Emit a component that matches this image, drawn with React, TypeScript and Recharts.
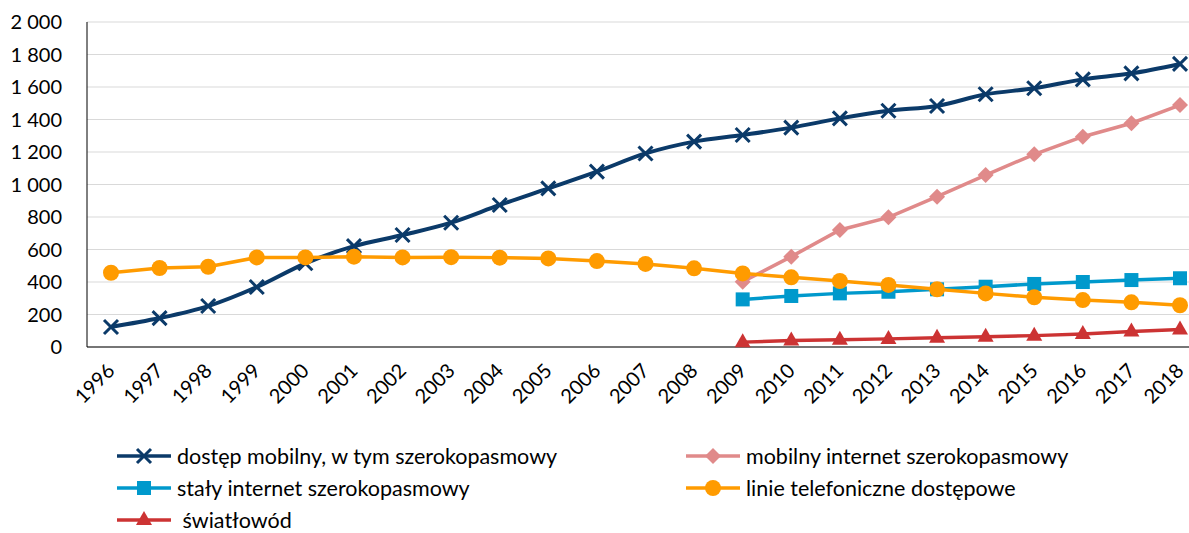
import { CartesianGrid, Legend, Line, LineChart, XAxis, YAxis } from "recharts";

const YEARS = [
  "1996", "1997", "1998", "1999", "2000", "2001", "2002", "2003", "2004", "2005", "2006", "2007",
  "2008", "2009", "2010", "2011", "2012", "2013", "2014", "2015", "2016", "2017", "2018",
];

const MOBILE_ACCESS = [
  123, 178, 252, 369, 515, 621, 689, 765, 874, 976, 1079, 1191, 1264, 1305, 1350, 1407, 1454,
  1483, 1555, 1592, 1647, 1684, 1742,
];
const PRE_2009 = Array(13).fill(null);
const MOBILE_BROADBAND = [...PRE_2009, 402, 556, 720, 798, 925, 1058, 1186, 1294, 1377, 1489];
const FIXED_BROADBAND = [...PRE_2009, 293, 314, 330, 340, 355, 371, 388, 400, 412, 423];
const PHONE_LINES = [
  457, 486, 494, 551, 551, 556, 551, 553, 550, 545, 529, 511, 484, 453, 429, 406, 382, 355, 330,
  306, 289, 275, 257,
];
const FIBER = [...PRE_2009, 30, 40, 45, 50, 57, 63, 70, 80, 95, 108];

const Y_TICKS = [0, 200, 400, 600, 800, 1000, 1200, 1400, 1600, 1800, 2000];

const NAVY = "#0b3a69";
const PINK = "#e08a8a";
const BLUE = "#0099cc";
const ORANGE = "#ff9b00";
const RED = "#cc3333";
const FONT = "Lato, 'Open Sans', sans-serif";

const data = YEARS.map((year, i) => ({
  year,
  mobile: MOBILE_ACCESS[i],
  mobileBb: MOBILE_BROADBAND[i],
  fixedBb: FIXED_BROADBAND[i],
  phone: PHONE_LINES[i],
  fiber: FIBER[i],
}));

const fmt = (v: number) => String(v).replace(/\B(?=(\d{3})+(?!\d))/g, " ");

function Marker({ kind, cx, cy, color }: { kind: string; cx: number; cy: number; color: string }) {
  if (cx == null || cy == null) return null;
  switch (kind) {
    case "x":
      return (
        <path
          d={`M${cx - 7},${cy - 7}L${cx + 7},${cy + 7}M${cx - 7},${cy + 7}L${cx + 7},${cy - 7}`}
          stroke={color}
          strokeWidth={3}
          fill="none"
        />
      );
    case "diamond":
      return <path d={`M${cx},${cy - 8}L${cx + 8},${cy}L${cx},${cy + 8}L${cx - 8},${cy}Z`} fill={color} />;
    case "square":
      return <rect x={cx - 7} y={cy - 7} width={14} height={14} fill={color} />;
    case "circle":
      return <circle cx={cx} cy={cy} r={8} fill={color} />;
    case "triangle":
      return <path d={`M${cx},${cy - 9}L${cx + 8},${cy + 5}L${cx - 8},${cy + 5}Z`} fill={color} />;
  }
  return null;
}

const dot = (kind: string, color: string) => (p: any) =>
  p.value == null ? <g key={p.index} /> : <Marker key={p.index} kind={kind} cx={p.cx} cy={p.cy} color={color} />;

const SERIES = [
  { key: "mobile", name: "dostęp mobilny, w tym szerokopasmowy", color: NAVY, kind: "x" },
  { key: "mobileBb", name: "mobilny internet szerokopasmowy", color: PINK, kind: "diamond" },
  { key: "fixedBb", name: "stały internet szerokopasmowy", color: BLUE, kind: "square" },
  { key: "phone", name: "linie telefoniczne dostępowe", color: ORANGE, kind: "circle" },
  { key: "fiber", name: " światłowód", color: RED, kind: "triangle" },
];

function XTick({ x, y, payload }: any) {
  return (
    <g transform={`translate(${x},${y + 12}) rotate(-45)`}>
      <text x={0} y={0} dy="0.35em" textAnchor="end" fill="#000" fontSize={20} fontFamily={FONT}>
        {payload.value}
      </text>
    </g>
  );
}

function LegendContent() {
  return (
    <div
      style={{
        display: "grid",
        gridTemplateColumns: "569px 440px",
        paddingLeft: 117,
        paddingTop: 1,
        fontFamily: FONT,
        fontSize: 21.5,
        lineHeight: "24px",
        color: "#000",
      }}
    >
      {SERIES.map((s) => (
        <div key={s.key} style={{ display: "flex", alignItems: "center", height: 32, whiteSpace: "pre" }}>
          <svg width={54} height={24} style={{ marginRight: 6 }}>
            <line x1={0} y1={12} x2={54} y2={12} stroke={s.color} strokeWidth={3.5} />
            <Marker kind={s.kind} cx={27} cy={12} color={s.color} />
          </svg>
          {s.name}
        </div>
      ))}
    </div>
  );
}

export default function App() {
  return (
    <div style={{ position: "absolute", left: 0, top: 0, width: 1189, height: 533, overflow: "hidden", background: "#fff" }}>
      <LineChart width={1210} height={533} data={data} margin={{ top: 22, right: 6, bottom: 0, left: 0 }}>
        <CartesianGrid horizontal vertical={false} stroke="#d9d9d9" strokeWidth={1} />
        <XAxis
          dataKey="year"
          interval={0}
          height={92}
          padding={{ left: 24, right: 24 }}
          tick={<XTick />}
          tickLine={false}
          axisLine={{ stroke: "#000", strokeWidth: 1 }}
        />
        <YAxis
          width={87}
          domain={[0, 2000]}
          ticks={Y_TICKS}
          tickFormatter={fmt}
          interval={0}
          tickLine={false}
          tickMargin={19}
          axisLine={{ stroke: "#000", strokeWidth: 1 }}
          tick={{ fill: "#000", fontSize: 20, fontFamily: FONT }}
        />
        <Legend verticalAlign="bottom" height={94} content={<LegendContent />} />
        <Line
          dataKey="mobile"
          type="monotone"
          stroke={NAVY}
          strokeWidth={4}
          dot={dot("x", NAVY)}
          isAnimationActive={false}
        />
        <Line dataKey="mobileBb" stroke={PINK} strokeWidth={3.5} dot={dot("diamond", PINK)} isAnimationActive={false} />
        <Line dataKey="fixedBb" stroke={BLUE} strokeWidth={3.5} dot={dot("square", BLUE)} isAnimationActive={false} />
        <Line dataKey="phone" stroke={ORANGE} strokeWidth={3.5} dot={dot("circle", ORANGE)} isAnimationActive={false} />
        <Line dataKey="fiber" stroke={RED} strokeWidth={3.5} dot={dot("triangle", RED)} isAnimationActive={false} />
      </LineChart>
    </div>
  );
}
